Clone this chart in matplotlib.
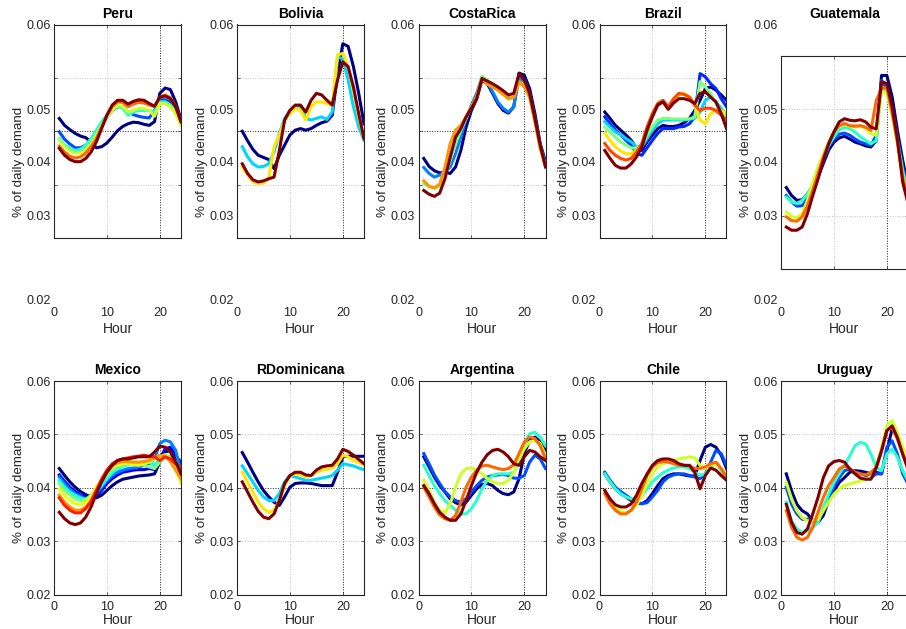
import numpy as np
import matplotlib
matplotlib.use("Agg")
import matplotlib.pyplot as plt

plt.rcParams['font.family'] = ['Liberation Sans', 'DejaVu Sans']

HOURS = list(range(1, 25))
TITLES_TOP = ['Peru', 'Bolivia', 'CostaRica', 'Brazil', 'Guatemala']
TITLES_BOTTOM = ['Mexico', 'RDominicana', 'Argentina', 'Chile', 'Uruguay']
X_TICKS = [0, 10, 20]
Y_TICKS_ALL = [0.02, 0.03, 0.04, 0.05, 0.06]
Y_TICKS_OUTER = [0.02, 0.04, 0.06]
Y_TICKS_INNER = [0.03, 0.05]

PERU = [
    [.0424, .0411, .0403, .0396, .0391, .0388, .0380, .0369, .0371, .0378, .0389, .0401, .0409, .0414, .0417, .0416, .0413, .0411, .0418, .0471, .0481, .0478, .0455, .0421],
    [.0399, .0385, .0376, .0369, .0369, .0374, .0383, .0396, .0411, .0427, .0439, .0446, .0446, .0436, .0431, .0428, .0426, .0425, .0439, .0459, .0459, .0455, .0439, .0418],
    [.0386, .0374, .0368, .0364, .0366, .0374, .0386, .0402, .0418, .0430, .0441, .0446, .0443, .0430, .0436, .0439, .0439, .0439, .0436, .0455, .0455, .0449, .0436, .0414],
    [.0383, .0371, .0363, .0359, .0359, .0366, .0377, .0393, .0411, .0427, .0439, .0449, .0446, .0436, .0439, .0443, .0443, .0439, .0428, .0452, .0452, .0446, .0433, .0411],
    [.0372, .0361, .0353, .0350, .0352, .0359, .0371, .0386, .0408, .0430, .0446, .0455, .0454, .0446, .0451, .0454, .0453, .0449, .0446, .0464, .0468, .0463, .0446, .0418],
    [.0368, .0355, .0347, .0343, .0343, .0349, .0361, .0380, .0405, .0430, .0449, .0458, .0458, .0451, .0456, .0459, .0458, .0452, .0447, .0464, .0466, .0461, .0446, .0418],
]
BOLIVIA = [
    [.0400, .0382, .0366, .0355, .0351, .0347, .0330, .0355, .0374, .0393, .0402, .0405, .0402, .0405, .0411, .0416, .0419, .0430, .0508, .0564, .0559, .0521, .0471, .0414],
    [.0371, .0352, .0339, .0333, .0334, .0339, .0361, .0396, .0424, .0439, .0447, .0447, .0424, .0421, .0424, .0427, .0422, .0436, .0539, .0536, .0496, .0446, .0408, .0383],
    [.0333, .0318, .0305, .0302, .0303, .0311, .0371, .0393, .0421, .0433, .0443, .0439, .0421, .0446, .0455, .0455, .0452, .0449, .0543, .0546, .0521, .0477, .0427, .0386],
    [.0339, .0321, .0309, .0305, .0307, .0311, .0314, .0364, .0421, .0439, .0449, .0449, .0436, .0458, .0471, .0468, .0458, .0449, .0496, .0530, .0521, .0483, .0433, .0386],
]
COSTARICA = [
    [.0349, .0334, .0326, .0322, .0323, .0321, .0333, .0364, .0408, .0439, .0461, .0496, .0489, .0471, .0452, .0439, .0434, .0446, .0509, .0505, .0480, .0433, .0377, .0343],
    [.0332, .0321, .0314, .0318, .0324, .0333, .0358, .0389, .0424, .0449, .0471, .0502, .0493, .0474, .0455, .0443, .0436, .0446, .0499, .0493, .0471, .0424, .0374, .0339],
    [.0302, .0296, .0293, .0297, .0314, .0346, .0377, .0402, .0424, .0446, .0464, .0503, .0496, .0488, .0480, .0471, .0463, .0464, .0493, .0483, .0464, .0418, .0368, .0334],
    [.0307, .0297, .0294, .0301, .0333, .0377, .0402, .0411, .0427, .0446, .0464, .0499, .0488, .0483, .0477, .0469, .0461, .0463, .0493, .0483, .0464, .0418, .0368, .0334],
    [.0289, .0282, .0278, .0284, .0311, .0352, .0389, .0405, .0427, .0443, .0461, .0499, .0494, .0489, .0483, .0476, .0468, .0471, .0508, .0496, .0471, .0424, .0374, .0333],
]
BRAZIL = [
    [.0436, .0424, .0411, .0402, .0393, .0383, .0368, .0364, .0380, .0393, .0405, .0411, .0409, .0409, .0411, .0416, .0424, .0439, .0458, .0480, .0483, .0477, .0468, .0458],
    [.0427, .0414, .0402, .0393, .0383, .0374, .0358, .0355, .0369, .0383, .0396, .0405, .0405, .0405, .0408, .0409, .0414, .0427, .0508, .0502, .0489, .0480, .0461, .0446],
    [.0418, .0408, .0399, .0393, .0386, .0380, .0371, .0371, .0386, .0402, .0414, .0421, .0421, .0421, .0421, .0421, .0423, .0424, .0436, .0458, .0464, .0455, .0443, .0430],
    [.0408, .0399, .0389, .0380, .0374, .0369, .0368, .0374, .0393, .0408, .0421, .0424, .0424, .0423, .0423, .0423, .0423, .0427, .0493, .0483, .0471, .0452, .0436, .0424],
    [.0396, .0383, .0371, .0363, .0358, .0358, .0364, .0377, .0408, .0433, .0449, .0455, .0443, .0455, .0468, .0471, .0464, .0449, .0421, .0414, .0433, .0439, .0439, .0433],
    [.0377, .0364, .0355, .0349, .0346, .0349, .0361, .0377, .0408, .0433, .0452, .0458, .0446, .0461, .0471, .0469, .0464, .0449, .0439, .0443, .0443, .0439, .0430, .0421],
    [.0364, .0349, .0336, .0331, .0331, .0339, .0352, .0371, .0402, .0427, .0449, .0455, .0441, .0453, .0461, .0461, .0458, .0452, .0471, .0474, .0464, .0455, .0433, .0405],
]
GUATEMALA = [
    [.0353, .0338, .0329, .0330, .0341, .0354, .0373, .0398, .0423, .0438, .0446, .0449, .0444, .0438, .0435, .0431, .0429, .0441, .0563, .0563, .0523, .0460, .0404, .0354],
    [.0338, .0326, .0318, .0319, .0332, .0351, .0376, .0404, .0429, .0444, .0453, .0455, .0451, .0444, .0438, .0435, .0432, .0451, .0554, .0538, .0504, .0448, .0391, .0344],
    [.0335, .0326, .0323, .0329, .0341, .0357, .0379, .0407, .0432, .0448, .0461, .0466, .0463, .0457, .0448, .0441, .0435, .0441, .0541, .0532, .0498, .0441, .0385, .0341],
    [.0307, .0299, .0296, .0304, .0329, .0363, .0391, .0416, .0438, .0457, .0468, .0471, .0468, .0466, .0468, .0463, .0454, .0451, .0535, .0529, .0488, .0435, .0376, .0335],
    [.0298, .0291, .0290, .0298, .0319, .0348, .0379, .0410, .0435, .0457, .0469, .0473, .0469, .0468, .0469, .0466, .0460, .0516, .0538, .0541, .0494, .0438, .0373, .0329],
    [.0279, .0273, .0273, .0279, .0304, .0338, .0369, .0404, .0435, .0457, .0476, .0482, .0479, .0478, .0480, .0476, .0466, .0463, .0551, .0548, .0504, .0444, .0363, .0323],
]
MEXICO = [
    [.0436, .0423, .0411, .0401, .0393, .0387, .0383, .0381, .0386, .0395, .0404, .0411, .0416, .0418, .0420, .0422, .0423, .0424, .0426, .0448, .0467, .0470, .0458, .0448],
    [.0424, .0412, .0401, .0393, .0386, .0383, .0379, .0384, .0395, .0408, .0417, .0424, .0429, .0431, .0433, .0434, .0434, .0436, .0434, .0454, .0473, .0476, .0461, .0445],
    [.0420, .0408, .0397, .0389, .0384, .0379, .0379, .0389, .0401, .0414, .0423, .0429, .0433, .0436, .0437, .0439, .0442, .0445, .0454, .0483, .0489, .0486, .0470, .0429],
    [.0414, .0401, .0392, .0386, .0381, .0378, .0383, .0392, .0404, .0417, .0428, .0436, .0441, .0443, .0445, .0447, .0448, .0449, .0442, .0454, .0461, .0458, .0448, .0423],
    [.0408, .0395, .0387, .0379, .0376, .0378, .0386, .0398, .0412, .0423, .0433, .0439, .0443, .0445, .0447, .0445, .0442, .0439, .0436, .0448, .0458, .0454, .0439, .0414],
    [.0398, .0386, .0376, .0370, .0368, .0373, .0384, .0401, .0417, .0429, .0439, .0443, .0445, .0445, .0443, .0442, .0445, .0448, .0454, .0458, .0462, .0454, .0436, .0408],
    [.0386, .0373, .0364, .0358, .0358, .0364, .0376, .0395, .0414, .0429, .0441, .0447, .0449, .0449, .0448, .0448, .0449, .0451, .0456, .0461, .0459, .0449, .0433, .0417],
    [.0381, .0367, .0358, .0353, .0353, .0361, .0374, .0395, .0416, .0433, .0445, .0451, .0454, .0456, .0458, .0459, .0461, .0459, .0458, .0451, .0458, .0454, .0445, .0436],
    [.0354, .0342, .0334, .0331, .0334, .0345, .0364, .0389, .0411, .0429, .0442, .0451, .0454, .0454, .0456, .0458, .0458, .0458, .0467, .0478, .0476, .0467, .0448, .0426],
]
RDOMINICANA = [
    [.0466, .0448, .0429, .0411, .0395, .0383, .0373, .0367, .0383, .0401, .0408, .0409, .0409, .0408, .0406, .0404, .0404, .0404, .0429, .0458, .0459, .0459, .0459, .0459],
    [.0441, .0426, .0411, .0395, .0383, .0376, .0376, .0389, .0411, .0423, .0420, .0417, .0414, .0414, .0416, .0418, .0420, .0423, .0433, .0445, .0443, .0441, .0437, .0434],
    [.0429, .0411, .0392, .0373, .0361, .0354, .0358, .0376, .0404, .0423, .0426, .0424, .0420, .0423, .0429, .0433, .0434, .0437, .0445, .0461, .0458, .0451, .0447, .0443],
    [.0411, .0392, .0373, .0356, .0345, .0342, .0351, .0376, .0408, .0423, .0429, .0429, .0424, .0423, .0433, .0439, .0441, .0442, .0454, .0472, .0468, .0461, .0453, .0445],
]
ARGENTINA = [
    [.0458, .0439, .0420, .0404, .0392, .0379, .0372, .0368, .0373, .0386, .0398, .0406, .0408, .0404, .0395, .0389, .0387, .0392, .0417, .0464, .0489, .0495, .0486, .0470],
    [.0464, .0445, .0424, .0408, .0393, .0383, .0376, .0373, .0379, .0392, .0404, .0414, .0420, .0423, .0424, .0425, .0423, .0418, .0418, .0423, .0448, .0461, .0454, .0436],
    [.0442, .0423, .0404, .0389, .0376, .0367, .0358, .0351, .0351, .0361, .0376, .0398, .0414, .0423, .0426, .0426, .0426, .0429, .0448, .0483, .0501, .0504, .0495, .0479],
    [.0414, .0395, .0373, .0358, .0353, .0370, .0401, .0426, .0436, .0437, .0433, .0426, .0417, .0411, .0408, .0408, .0414, .0429, .0454, .0473, .0486, .0489, .0483, .0461],
    [.0401, .0383, .0364, .0349, .0342, .0339, .0348, .0373, .0401, .0420, .0433, .0441, .0442, .0439, .0436, .0434, .0436, .0443, .0464, .0486, .0495, .0492, .0479, .0454],
    [.0404, .0389, .0370, .0354, .0345, .0339, .0339, .0351, .0376, .0404, .0429, .0448, .0462, .0470, .0472, .0467, .0458, .0445, .0442, .0458, .0470, .0467, .0458, .0451],
]
CHILE = [
    [.0426, .0411, .0398, .0389, .0383, .0376, .0372, .0370, .0376, .0389, .0404, .0417, .0423, .0426, .0426, .0424, .0422, .0422, .0451, .0476, .0481, .0476, .0461, .0436],
    [.0429, .0414, .0401, .0393, .0386, .0379, .0373, .0370, .0372, .0383, .0395, .0411, .0420, .0424, .0426, .0426, .0423, .0420, .0417, .0426, .0448, .0470, .0464, .0442],
    [.0426, .0411, .0398, .0389, .0383, .0379, .0379, .0386, .0398, .0411, .0420, .0428, .0433, .0437, .0439, .0439, .0436, .0429, .0423, .0426, .0439, .0445, .0433, .0417],
    [.0395, .0376, .0364, .0356, .0353, .0358, .0367, .0386, .0408, .0426, .0439, .0445, .0448, .0451, .0454, .0456, .0458, .0456, .0442, .0436, .0442, .0445, .0436, .0423],
    [.0389, .0370, .0358, .0351, .0351, .0358, .0373, .0398, .0423, .0439, .0447, .0449, .0448, .0445, .0442, .0442, .0441, .0436, .0436, .0439, .0445, .0448, .0436, .0420],
    [.0395, .0379, .0368, .0364, .0364, .0370, .0386, .0408, .0426, .0442, .0451, .0454, .0454, .0451, .0445, .0442, .0442, .0429, .0398, .0423, .0437, .0433, .0423, .0414],
]
URUGUAY = [
    [.0426, .0394, .0369, .0357, .0351, .0338, .0335, .0348, .0376, .0394, .0410, .0419, .0429, .0432, .0431, .0429, .0426, .0429, .0426, .0469, .0510, .0501, .0469, .0438],
    [.0401, .0369, .0351, .0341, .0341, .0338, .0335, .0357, .0382, .0401, .0419, .0432, .0435, .0429, .0426, .0423, .0419, .0426, .0426, .0476, .0488, .0463, .0426, .0407],
    [.0373, .0338, .0323, .0316, .0319, .0326, .0335, .0363, .0388, .0410, .0426, .0441, .0460, .0479, .0485, .0482, .0463, .0438, .0432, .0463, .0473, .0457, .0432, .0413],
    [.0410, .0379, .0357, .0344, .0338, .0338, .0341, .0357, .0373, .0388, .0398, .0404, .0407, .0410, .0413, .0416, .0421, .0438, .0476, .0516, .0526, .0504, .0476, .0451],
    [.0357, .0326, .0307, .0302, .0307, .0326, .0354, .0382, .0404, .0419, .0435, .0441, .0435, .0429, .0426, .0424, .0429, .0438, .0469, .0507, .0513, .0491, .0463, .0435],
    [.0369, .0335, .0316, .0313, .0323, .0351, .0382, .0419, .0441, .0449, .0451, .0448, .0435, .0426, .0418, .0416, .0416, .0438, .0469, .0507, .0516, .0494, .0463, .0435],
]

DATA_TOP = [PERU, BOLIVIA, COSTARICA, BRAZIL, GUATEMALA]
DATA_BOTTOM = [MEXICO, RDOMINICANA, ARGENTINA, CHILE, URUGUAY]

# ---------------- layout (pixels) ----------------
W, H = 906, 629
COL_LEFT = [54, 237, 418.5, 599.5, 781]
BOX_W = 127
BOX_H = 213.5
TOP_BOX_TOP = [24.5, 24.5, 24.5, 24.5, 55.7]
INNER_TOP = 55.7
GHOST_TOP, GHOST_H = 24.5, 274.5
BOTTOM_TOP = 381

TXT = '#262626'
LIGHT = '#c8c8c8'
DARK = '#202020'
GRID_LS = (0, (1, 1.6))
TICK_FS = 9
LABEL_FS = 10
YLABEL_FS = 9.6


def rect(left, top, w, h):
    return [left / W, 1 - (top + h) / H, w / W, h / H]


fig = plt.figure(figsize=(W / 100, H / 100), dpi=100)


def draw_grid(ax, ylight, ydark):
    for x in [10]:
        ax.axvline(x, color=LIGHT, ls=GRID_LS, lw=0.7, zorder=0.5)
    for x in [20]:
        ax.axvline(x, color=DARK, ls=GRID_LS, lw=0.7, zorder=0.5)
    for y in ylight:
        ax.axhline(y, color=LIGHT, ls=GRID_LS, lw=0.7, zorder=0.5)
    for y in ydark:
        ax.axhline(y, color=DARK, ls=GRID_LS, lw=0.7, zorder=0.5)


def style_box(ax):
    ax.set_xlim(0, 24)
    ax.set_ylim(0.02, 0.06)
    for s in ax.spines.values():
        s.set_color(TXT)
        s.set_linewidth(0.8)
    ax.tick_params(direction='in', length=2.5, width=0.5, top=True, right=True,
                   colors=TXT, labelsize=TICK_FS, pad=2)


def plot_lines(ax, series):
    colors = plt.cm.jet(np.linspace(0, 1, len(series)))
    for vals, c in zip(series, colors):
        ax.plot(HOURS, vals, color=c, lw=2.2, solid_joinstyle='round', zorder=2)


def ghost_axes(r):
    g = fig.add_axes(r)
    g.patch.set_visible(False)
    for s in g.spines.values():
        s.set_visible(False)
    g.set_xlim(0, 24)
    g.set_ylim(0.02, 0.06)
    g.tick_params(length=0, colors=TXT, labelsize=TICK_FS)
    return g


# ---------------- top row ----------------
for i, (title, series) in enumerate(zip(TITLES_TOP, DATA_TOP)):
    left = COL_LEFT[i]
    g = ghost_axes(rect(left, GHOST_TOP, BOX_W, GHOST_H))
    g.set_yticks(Y_TICKS_OUTER)
    g.set_yticklabels(['%.2f' % v for v in Y_TICKS_OUTER])
    g.set_xticks(X_TICKS)
    g.set_xticklabels([str(v) for v in X_TICKS])
    g.tick_params(axis='y', pad=2.5)
    g.tick_params(axis='x', pad=5.5)
    g.set_xlabel('Hour', fontsize=LABEL_FS, color=TXT, labelpad=2.5)
    g.set_ylabel('% of daily demand', fontsize=YLABEL_FS, color=TXT, labelpad=1)
    g.set_title(title, fontsize=LABEL_FS, fontweight='bold', color='black', pad=5)

    if i < 4:
        g2 = ghost_axes(rect(left, INNER_TOP, BOX_W, BOX_H))
        g2.set_yticks(Y_TICKS_INNER)
        g2.set_yticklabels(['%.2f' % v for v in Y_TICKS_INNER])
        g2.set_xticks([])
        g2.tick_params(axis='y', pad=2.5)

    ax = fig.add_axes(rect(left, TOP_BOX_TOP[i], BOX_W, BOX_H))
    style_box(ax)
    ax.set_xticks(X_TICKS)
    if i < 4:
        ax.set_yticks([0.03, 0.04, 0.05])
        ax.tick_params(labelleft=False, labelbottom=False)
        draw_grid(ax, [0.03, 0.05], [0.04])
    else:
        ax.set_yticks(Y_TICKS_INNER)
        ax.set_yticklabels(['%.2f' % v for v in Y_TICKS_INNER])
        ax.tick_params(labelbottom=False, pad=2.5)
        draw_grid(ax, [0.03, 0.05], [])
    plot_lines(ax, series)

# ---------------- bottom row ----------------
for i, (title, series) in enumerate(zip(TITLES_BOTTOM, DATA_BOTTOM)):
    left = COL_LEFT[i]
    ax = fig.add_axes(rect(left, BOTTOM_TOP, BOX_W, BOX_H))
    style_box(ax)
    ax.set_xticks(X_TICKS)
    ax.set_xticklabels([str(v) for v in X_TICKS])
    ax.set_yticks(Y_TICKS_ALL)
    ax.set_yticklabels(['%.2f' % v for v in Y_TICKS_ALL])
    ax.tick_params(axis='x', pad=4.5)
    ax.tick_params(axis='y', pad=2.5)
    draw_grid(ax, [0.03, 0.05], [0.04])
    plot_lines(ax, series)
    ax.set_xlabel('Hour', fontsize=LABEL_FS, color=TXT, labelpad=0.5)
    ax.set_ylabel('% of daily demand', fontsize=YLABEL_FS, color=TXT, labelpad=1)
    ax.set_title(title, fontsize=LABEL_FS, fontweight='bold', color='black', pad=5)

fig.savefig('out.png', dpi=100, facecolor='white')
